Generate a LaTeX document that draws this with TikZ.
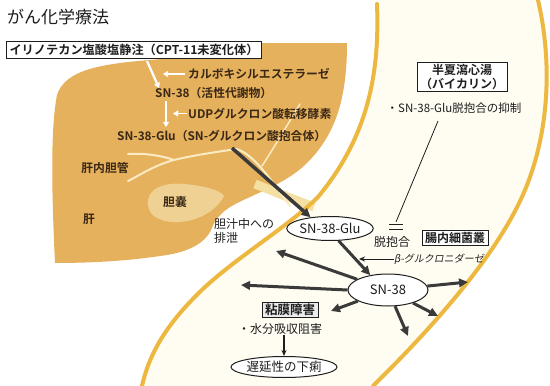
\documentclass[tikz,border=0pt]{standalone}
\usepackage{fontspec}
\setmainfont{Noto Sans CJK JP}[BoldFont={Noto Sans CJK JP Bold}]
\newfontfamily\slantjp{Noto Sans CJK JP}[FakeSlant=0.18]
\usetikzlibrary{shapes.geometric,arrows.meta}

\definecolor{liver}{HTML}{E6B15C}
\definecolor{gall}{HTML}{EED193}
\definecolor{wallc}{HTML}{EDB83F}
\definecolor{lumen}{HTML}{FFFCF1}
\definecolor{cbd}{HTML}{F4E0A2}
\definecolor{ductc}{HTML}{FBEBC4}
\definecolor{ink}{HTML}{1E1E1E}
\definecolor{arrowc}{HTML}{3A3A3A}
\definecolor{livertxt}{HTML}{3A2816}

\tikzset{
  fs/.style={font=\fontsize{#1}{#1}\selectfont},
  livlabel/.style={font=\bfseries\fontsize{11.8}{12}\selectfont, text=livertxt, inner sep=0pt, anchor=west},
  plain/.style={font=\fontsize{12}{14}\selectfont, text=ink, inner sep=0pt},
  boxed/.style={draw=ink, line width=0.9pt, fill=white, inner xsep=3pt, inner ysep=2pt, text=ink},
  oval/.style={ellipse, draw=ink, line width=1pt, fill=white, inner sep=0pt, text=ink},
  wallline/.style={draw=wallc, line width=4pt, line cap=round},
  duct/.style={draw=ductc, line width=2pt, line cap=round},
  whitearrow/.style={draw=white, line width=2.2pt, -{Triangle[length=5pt,width=6pt]}},
  bigarrow/.style={draw=arrowc, line width=3pt, -{Triangle[length=9pt,width=8.5pt]}},
  thinarrow/.style={draw=ink, line width=1pt, -{Stealth[length=6pt,width=5pt]}},
}

\begin{document}
\begin{tikzpicture}[x=1pt,y=-1pt]
\useasboundingbox (0,0) rectangle (550,386);
\fill[white] (0,0) rectangle (550,386);

% intestinal lumen between the two walls
\fill[lumen] (377,4) .. controls (380,80) and (365,140) .. (318,197)
  .. controls (290,225) and (240,255) .. (205,287)
  .. controls (170,320) and (150,350) .. (142,386)
  -- (373,386) .. controls (440,320) and (500,250) .. (525,190)
  .. controls (550,130) and (552,60) .. (538,0) -- (377,0) -- cycle;

% liver
\fill[liver] (347,43) .. controls (347,100) and (335,135) .. (307,163)
  .. controls (290,180) and (265,190) .. (250,197)
  .. controls (232,205) and (218,212) .. (212,228)
  .. controls (205,245) and (185,253) .. (160,256)
  .. controls (120,262) and (80,263) .. (55,263)
  .. controls (52,200) and (50,130) .. (57,95)
  .. controls (65,70) and (100,64) .. (150,60)
  .. controls (190,57) and (230,45) .. (265,43) -- cycle;

% gallbladder
\fill[gall] (148,205) .. controls (146,188) and (165,182) .. (185,184)
  .. controls (205,186) and (220,190) .. (224,196)
  .. controls (220,205) and (205,220) .. (180,222)
  .. controls (160,223) and (149,216) .. (148,205) -- cycle;

% common bile duct into the duodenum
\draw[cbd, line width=9pt] (255,184) .. controls (275,192) and (295,200) .. (314,207);

% intrahepatic bile ducts
\draw[duct] (290,206) .. controls (272,182) and (256,156) .. (237,149)
  .. controls (215,152) and (190,156) .. (174,160)
  .. controls (155,165) and (140,175) .. (128,181);
\draw[duct] (174,160) .. controls (160,155) and (142,153) .. (128,154);
\draw[duct, line width=1.5pt] (262,166) .. controls (275,146) and (289,122) .. (300,104);

% intestinal walls
\draw[wallline] (377,4) .. controls (380,80) and (365,140) .. (318,197)
  .. controls (290,225) and (240,255) .. (205,287)
  .. controls (170,320) and (150,350) .. (142,386);
\draw[wallline] (538,0) .. controls (552,60) and (550,130) .. (525,190)
  .. controls (500,250) and (440,320) .. (373,386);

% title
\node[fs=17, text=ink, anchor=west, inner sep=0pt] (title) at (7,17) {がん化学療法};

% metabolic pathway in the liver
\node[boxed, inner ysep=3pt, font=\bfseries\fontsize{12.2}{12.5}\selectfont] (irino) at (134,50) {イリノテカン塩酸塩静注（CPT-11未変化体）};
\node[livlabel] (carb) at (188,74) {カルボキシルエステラーゼ};
\node[livlabel] (sn38a) at (155,93) {SN-38（活性代謝物）};
\node[livlabel] (udp) at (188,113.5) {UDPグルクロン酸転移酵素};
\node[livlabel] (snglu) at (117,135.5) {SN-38-Glu（SN-グルクロン酸抱合体）};
\node[livlabel, anchor=center] (kannai) at (105,168) {肝内胆管};
\node[livlabel, anchor=center] (kan) at (89,219) {肝};
\node[livlabel, anchor=center] (tannou) at (175,202) {胆嚢};

\coordinate (w1) at (147,61);
\coordinate (w2) at (159,88);
\coordinate (w3) at (166,101);
\coordinate (w4) at (166,127);
\coordinate (w5) at (185,74);
\coordinate (w6) at (163,74);
\coordinate (w7) at (187,113.5);
\coordinate (w8) at (173,113.5);
\draw[whitearrow] (w1) -- (w2);
\draw[whitearrow] (w3) -- (w4);
\draw[whitearrow, line width=1.6pt] (w5) -- (w6);
\draw[whitearrow, line width=1.6pt] (w7) -- (w8);

% excretion into bile
\node[plain, anchor=west, align=left] (haisetsu) at (214,231) {胆汁中への\\排泄};

\node[oval, minimum width=76pt, minimum height=24pt, font=\fontsize{13}{13}\selectfont] (gluE) at (330,228.5) {SN-38-Glu};
\node[oval, minimum width=80pt, minimum height=32pt, font=\fontsize{13}{13}\selectfont] (sn38E) at (388,290) {SN-38};

\coordinate (gstart) at (232,148);
\draw[bigarrow, line width=3.5pt] (gstart) -- (gluE.150);
\draw[bigarrow] (gluE.-55) -- (sn38E.140);

% kampo medicine and inhibition
\node[boxed, align=center, font=\bfseries\fontsize{12}{14}\selectfont] (hange) at (462,77) {半夏瀉心湯\\（バイカリン）};
\node[plain, font=\fontsize{11.5}{12}\selectfont] (yokusei) at (454,108) {・SN-38-Glu脱抱合の抑制};
\coordinate (inhA) at (438,121);
\coordinate (inhB) at (396,222);
\draw[ink, line width=0.8pt] (inhA) -- (inhB);
\draw[ink, line width=1.2pt] (389,224.5) -- (403,224.5) (389,229.5) -- (403,229.5);

% intestinal bacteria
\node[plain] (datsu) at (392,242) {脱抱合};
\node[boxed, font=\bfseries\fontsize{12}{12}\selectfont] (chounai) at (455,238) {腸内細菌叢};
\node[plain, anchor=west, font=\slantjp\fontsize{10}{10}\selectfont] (beta) at (394,259) {β-グルクロニダーゼ};
\coordinate (btip) at (359,259);
\draw[thinarrow] (beta.west) -- (btip);

% SN-38 spreading in the lumen
\coordinate (t1) at (276,251);
\coordinate (t2) at (241,285);
\coordinate (t3) at (468,282);
\coordinate (t4) at (331,311);
\coordinate (t5) at (408,336);
\coordinate (t6) at (438,316);
\draw[bigarrow] (sn38E) -- (t1);
\draw[bigarrow] (sn38E.west) -- (t2);
\draw[bigarrow] (sn38E) -- (t3);
\draw[bigarrow] (sn38E) -- (t4);
\draw[bigarrow] (sn38E) -- (t5);
\draw[bigarrow] (sn38E) -- (t6);

% mucosal damage and delayed diarrhoea
\node[boxed, fill=black!8, font=\bfseries\fontsize{12.5}{12.5}\selectfont] (nenmaku) at (290,310) {粘膜障害};
\node[plain] (suibun) at (280,329) {・水分吸収阻害};
\node[oval, minimum width=98pt, minimum height=21pt, font=\fontsize{12.5}{12.5}\selectfont] (geri) at (284,367) {遅延性の下痢};
\draw[thinarrow, line width=1.5pt] (suibun.south -| geri.north) -- (geri.north);

\end{tikzpicture}
\end{document}
